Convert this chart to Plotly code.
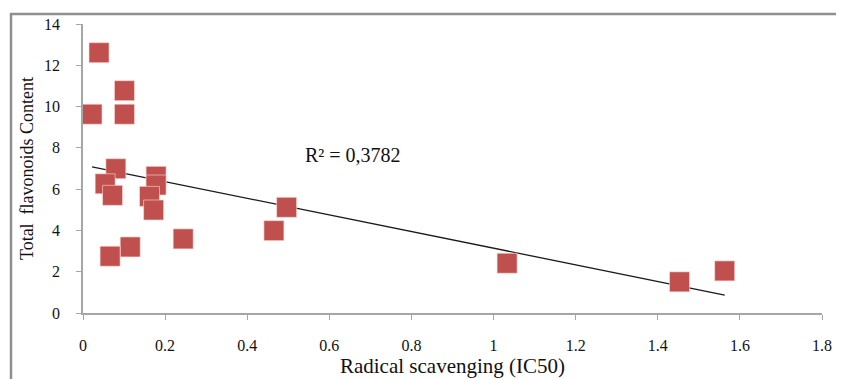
import numpy as np
import plotly.graph_objects as go

# Radical scavenging (IC50) vs Total flavonoids content
ic50 = [0.039, 0.101, 0.022, 0.101, 0.080, 0.054, 0.072, 0.178, 0.178, 0.162,
        0.172, 0.244, 0.115, 0.066, 0.465, 0.496, 1.033, 1.453, 1.563]
tfc = [12.61, 10.77, 9.63, 9.63, 6.99, 6.26, 5.70, 6.62, 6.20, 5.65,
       4.99, 3.59, 3.20, 2.75, 3.99, 5.12, 2.41, 1.51, 2.04]
x_ticks = [0, 0.2, 0.4, 0.6, 0.8, 1, 1.2, 1.4, 1.6, 1.8]
y_ticks = [0, 2, 4, 6, 8, 10, 12, 14]
r2_label = "R² = 0,3782"

x = np.array(ic50)
y = np.array(tfc)
slope, intercept = np.polyfit(x, y, 1)
xl = np.array([x.min(), x.max()])
yl = slope * xl + intercept

serif = "Liberation Serif, Times New Roman, serif"

fig = go.Figure()
fig.add_trace(go.Scatter(
    x=xl, y=yl, mode="lines",
    line=dict(color="#1a1a1a", width=1.3), hoverinfo="skip", showlegend=False))
fig.add_trace(go.Scatter(
    x=ic50, y=tfc, mode="markers",
    marker=dict(symbol="square", size=20, color="#C0504D",
                line=dict(color="rgba(255,220,220,0.6)", width=1)),
    showlegend=False))

fig.add_annotation(x=0.658, y=7.66, xref="x", yref="y", text=r2_label,
                   showarrow=False, font=dict(family=serif, size=20, color="#111"))

# page body has an 8px margin; lay out the figure accordingly
OFF = 8
FW, FH = 844 - OFF, 379 - OFF
L, T = 83 - OFF, 24 - OFF
R = 844 - 822
B = FH - (313.5 - OFF)
W, H = 739, 289.5

# outer chart frame
fig.add_shape(type="rect", xref="paper", yref="paper",
              x0=(11 - 83) / W, x1=1.2, y0=-0.6, y1=(313.5 - 14) / H,
              line=dict(color="#8f8f8f", width=2.5), layer="below")

fig.update_layout(
    width=FW, height=FH,
    margin=dict(l=L, r=R, t=T, b=B, autoexpand=False),
    paper_bgcolor="white", plot_bgcolor="white",
    font=dict(family=serif, size=16, color="#111"),
    xaxis=dict(range=[0, 1.8], tickvals=x_ticks, ticktext=[f"{v:g}" for v in x_ticks],
               showgrid=False, zeroline=False, showline=True, linecolor="#a6a6a6",
               linewidth=1.5, ticks="outside", ticklen=5, tickcolor="#a6a6a6",
               ticklabelstandoff=12, automargin=False,
               title=dict(text="Radical scavenging (IC50)", font=dict(size=21), standoff=2)),
    yaxis=dict(range=[0, 14], tickvals=y_ticks, showgrid=False, zeroline=False,
               showline=True, linecolor="#a6a6a6", linewidth=1.5, ticks="outside",
               ticklen=5, tickcolor="#a6a6a6", ticklabelstandoff=13, automargin=False,
               title=dict(text="Total  flavonoids Content", font=dict(size=18), standoff=6)),
)

fig.write_html("out.html")
